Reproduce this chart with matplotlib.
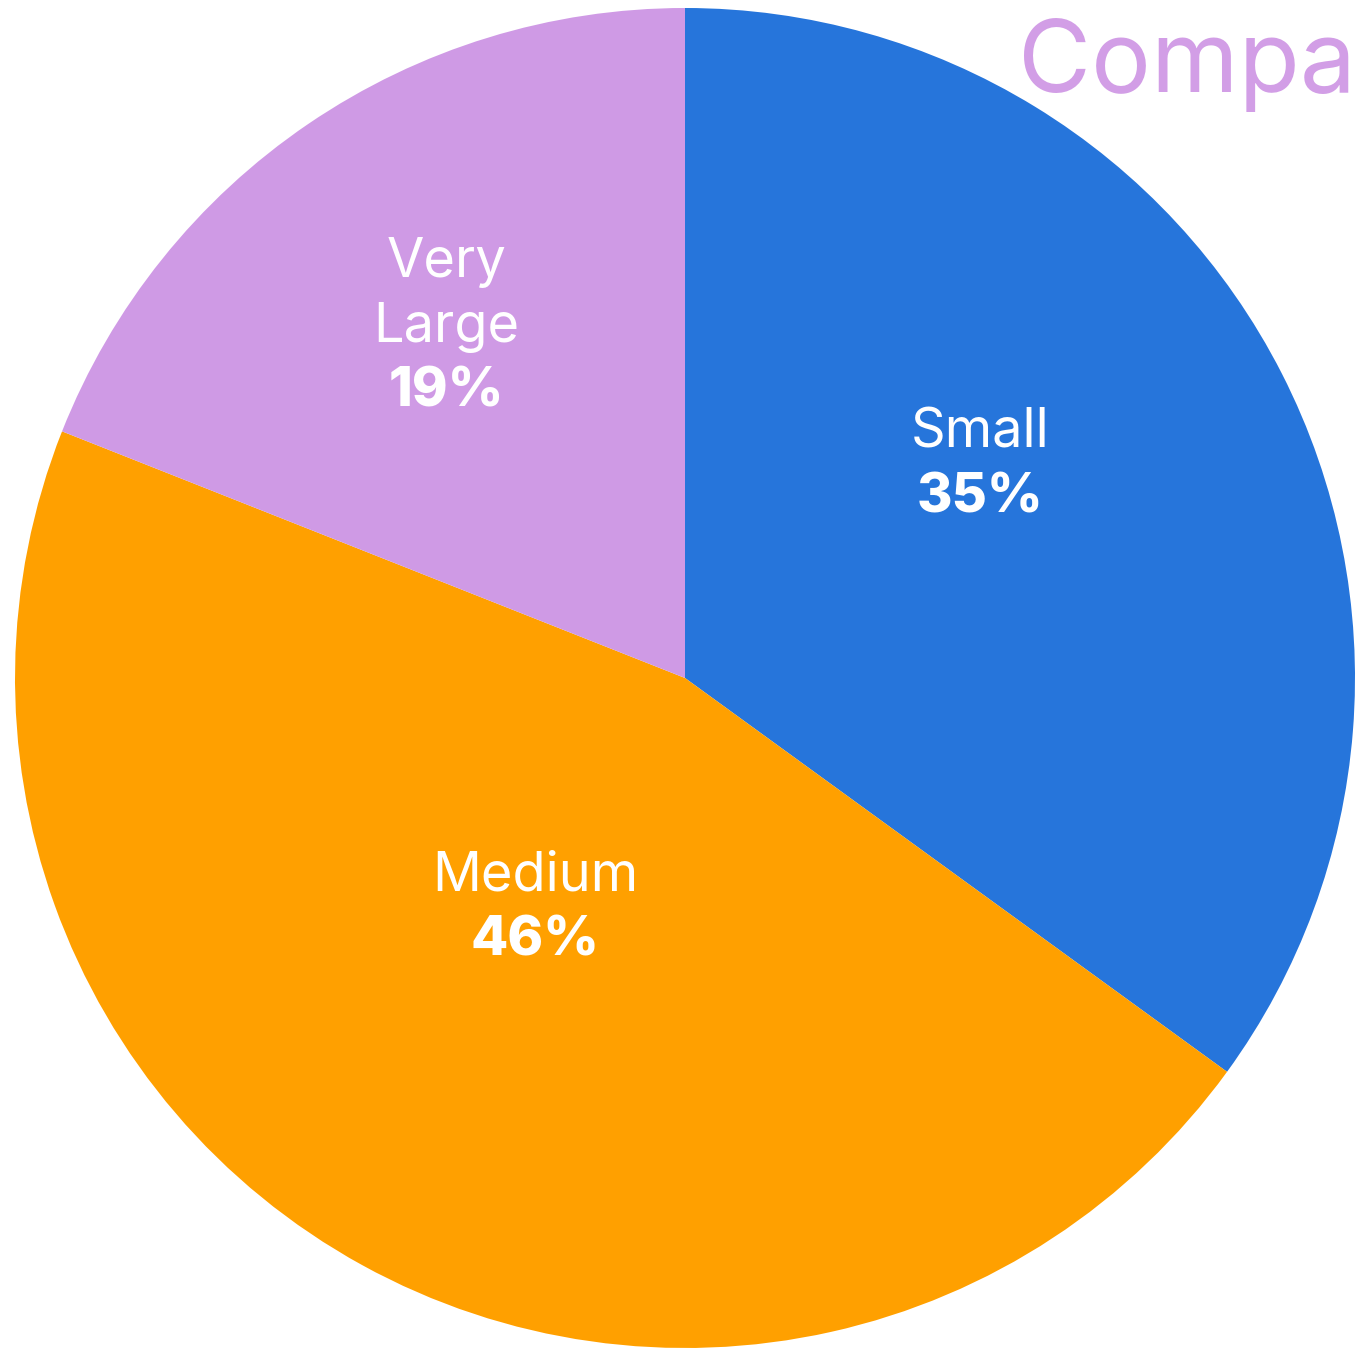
import numpy as np
import matplotlib.pyplot as plt

# chart data
categories = ['Small', 'Medium', 'Very\nLarge']
shares = [35, 46, 19]
colors = ['#2675DB', '#FFA000', '#CF9AE5']
# label block placement: fraction of radius and angle shift from wedge middle
label_radius = [0.543, 0.41, 0.633]
label_shift = [8.8, -4.2, 0.0]

W, H = 1356, 1353
fig = plt.figure(figsize=(W / 100, H / 100), dpi=100)
plt.rcParams['font.family'] = ['Inter', 'DejaVu Sans']

# pie axes: centre (685, 678) px from top-left, radius 670 px
cx, cy, r = 685, 678, 670
ax = fig.add_axes([(cx - r) / W, (H - cy - r) / H, 2 * r / W, 2 * r / H])

wedges, _ = ax.pie(shares, colors=colors, startangle=90, counterclock=False,
                   radius=1, wedgeprops=dict(linewidth=0))
ax.set_xlim(-1, 1)
ax.set_ylim(-1, 1)
ax.set_aspect('equal')
ax.axis('off')

step = 0.097
for w, name, val, rr, sh in zip(wedges, categories, shares, label_radius, label_shift):
    mid = np.deg2rad((w.theta1 + w.theta2) / 2 + sh)
    x, y = rr * np.cos(mid), rr * np.sin(mid)
    lines = name.split('\n') + [f'{val}%']
    top = y + step * len(lines) / 2
    for i, line in enumerate(lines):
        bold = i == len(lines) - 1
        ax.text(x, top - step * (i + 0.5), line, ha='center', va='center',
                color='white', fontsize=39,
                fontweight='heavy' if bold else 'normal')

fig.text(1.0, 1 - 92 / H, 'Compa', ha='right', va='baseline', color='#D29EE6',
         fontsize=72)

fig.savefig('out.png', dpi=100, facecolor='white')
